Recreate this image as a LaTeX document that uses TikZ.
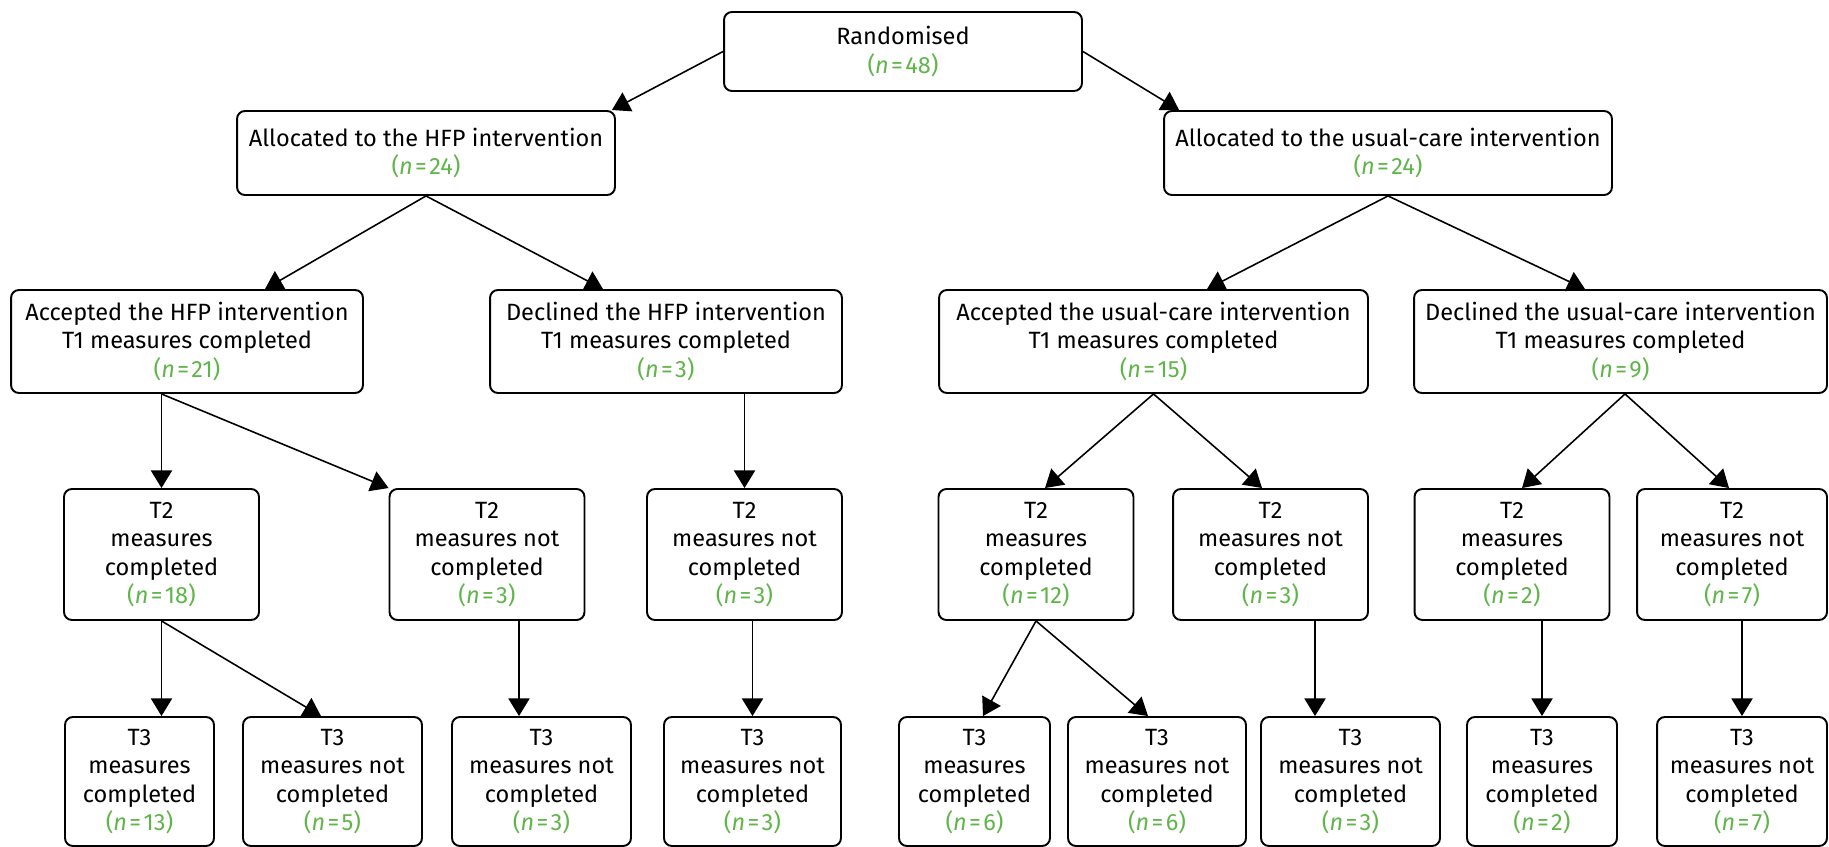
\documentclass[tikz,border=0pt]{standalone}
\usepackage{fontspec}
\setmainfont{Fira Sans}
\usetikzlibrary{positioning, arrows.meta, calc}

\begin{document}
\begin{tikzpicture}[
    x=0.02cm, y=-0.02cm,
    every node/.style={draw, rectangle, rounded corners=4.5pt, line width=1.1pt, inner sep=0pt, align=center, font=\fontsize{13.4pt}{16.2pt}\selectfont},
    arrow/.style={-{Triangle[length=10pt, width=12pt]}, line width=0.9pt}
]

% Colors
\definecolor{nihrgreen}{RGB}{96, 181, 74} % counts

\useasboundingbox (0,0) rectangle (1829,847);

% Nodes
\node (ran) [minimum width=7.16cm, minimum height=1.58cm] at (903,51.5) {Randomised\\\textcolor{nihrgreen}{(\textit{n}\hspace{0.1em}=\hspace{0.1em}48)}};

\node (hfp_alloc) [minimum width=7.56cm, minimum height=1.68cm] at (426,153) {Allocated to the HFP intervention\\\textcolor{nihrgreen}{(\textit{n}\hspace{0.1em}=\hspace{0.1em}24)}};
\node (uc_alloc) [minimum width=8.96cm, minimum height=1.68cm] at (1388,153) {Allocated to the usual-care intervention\\\textcolor{nihrgreen}{(\textit{n}\hspace{0.1em}=\hspace{0.1em}24)}};

\node (hfp_acc) [minimum width=7.04cm, minimum height=2.06cm] at (187,341.5) {Accepted the HFP intervention\\T1 measures completed\\\textcolor{nihrgreen}{(\textit{n}\hspace{0.1em}=\hspace{0.1em}21)}};
\node (hfp_dec) [minimum width=7.04cm, minimum height=2.06cm] at (666,341.5) {Declined the HFP intervention\\T1 measures completed\\\textcolor{nihrgreen}{(\textit{n}\hspace{0.1em}=\hspace{0.1em}3)}};
\node (uc_acc) [minimum width=8.58cm, minimum height=2.06cm] at (1153.5,341.5) {Accepted the usual-care intervention\\T1 measures completed\\\textcolor{nihrgreen}{(\textit{n}\hspace{0.1em}=\hspace{0.1em}15)}};
\node (uc_dec) [minimum width=8.26cm, minimum height=2.06cm] at (1620.5,341.5) {Declined the usual-care intervention\\T1 measures completed\\\textcolor{nihrgreen}{(\textit{n}\hspace{0.1em}=\hspace{0.1em}9)}};

\node (t2_hfp_done) [minimum width=3.9cm, minimum height=2.62cm] at (161.5,554.5) {T2\\measures\\completed\\\textcolor{nihrgreen}{(\textit{n}\hspace{0.1em}=\hspace{0.1em}18)}};
\node (t2_hfp_not) [minimum width=3.9cm, minimum height=2.62cm] at (487,554.5) {T2\\measures not\\completed\\\textcolor{nihrgreen}{(\textit{n}\hspace{0.1em}=\hspace{0.1em}3)}};
\node (t2_dec_not) [minimum width=3.9cm, minimum height=2.62cm] at (744.5,554.5) {T2\\measures not\\completed\\\textcolor{nihrgreen}{(\textit{n}\hspace{0.1em}=\hspace{0.1em}3)}};
\node (t2_uc_done) [minimum width=3.9cm, minimum height=2.62cm] at (1036,554.5) {T2\\measures\\completed\\\textcolor{nihrgreen}{(\textit{n}\hspace{0.1em}=\hspace{0.1em}12)}};
\node (t2_uc_not) [minimum width=3.9cm, minimum height=2.62cm] at (1270.5,554.5) {T2\\measures not\\completed\\\textcolor{nihrgreen}{(\textit{n}\hspace{0.1em}=\hspace{0.1em}3)}};
\node (t2_ucdec_done) [minimum width=3.9cm, minimum height=2.62cm] at (1512,554.5) {T2\\measures\\completed\\\textcolor{nihrgreen}{(\textit{n}\hspace{0.1em}=\hspace{0.1em}2)}};
\node (t2_ucdec_not) [minimum width=3.8cm, minimum height=2.62cm] at (1732,554.5) {T2\\measures not\\completed\\\textcolor{nihrgreen}{(\textit{n}\hspace{0.1em}=\hspace{0.1em}7)}};

\node (t3_hfp_done) [minimum width=2.98cm, minimum height=2.58cm] at (139.5,781.5) {T3\\measures\\completed\\\textcolor{nihrgreen}{(\textit{n}\hspace{0.1em}=\hspace{0.1em}13)}};
\node (t3_hfp_not) [minimum width=3.58cm, minimum height=2.58cm] at (332.5,781.5) {T3\\measures not\\completed\\\textcolor{nihrgreen}{(\textit{n}\hspace{0.1em}=\hspace{0.1em}5)}};
\node (t3_hfpnot_not) [minimum width=3.58cm, minimum height=2.58cm] at (541.5,781.5) {T3\\measures not\\completed\\\textcolor{nihrgreen}{(\textit{n}\hspace{0.1em}=\hspace{0.1em}3)}};
\node (t3_dec_not) [minimum width=3.54cm, minimum height=2.58cm] at (752.5,781.5) {T3\\measures not\\completed\\\textcolor{nihrgreen}{(\textit{n}\hspace{0.1em}=\hspace{0.1em}3)}};
\node (t3_uc_done) [minimum width=3.02cm, minimum height=2.58cm] at (974.5,781.5) {T3\\measures\\completed\\\textcolor{nihrgreen}{(\textit{n}\hspace{0.1em}=\hspace{0.1em}6)}};
\node (t3_uc_not) [minimum width=3.56cm, minimum height=2.58cm] at (1157,781.5) {T3\\measures not\\completed\\\textcolor{nihrgreen}{(\textit{n}\hspace{0.1em}=\hspace{0.1em}6)}};
\node (t3_ucnot_not) [minimum width=3.58cm, minimum height=2.58cm] at (1350.5,781.5) {T3\\measures not\\completed\\\textcolor{nihrgreen}{(\textit{n}\hspace{0.1em}=\hspace{0.1em}3)}};
\node (t3_ucdec_done) [minimum width=3.0cm, minimum height=2.58cm] at (1542,781.5) {T3\\measures\\completed\\\textcolor{nihrgreen}{(\textit{n}\hspace{0.1em}=\hspace{0.1em}2)}};
\node (t3_ucdec_not) [minimum width=3.4cm, minimum height=2.58cm] at (1742,781.5) {T3\\measures not\\completed\\\textcolor{nihrgreen}{(\textit{n}\hspace{0.1em}=\hspace{0.1em}7)}};

% Edges
\draw[arrow] (ran.west) -- ($(hfp_alloc.north east)+(-4,0)$);
\draw[arrow] (ran.east) -- ($(uc_alloc.north west)+(16,0)$);

\draw[arrow] (hfp_alloc.south) -- ($(hfp_acc.north)+(78,0)$);
\draw[arrow] (hfp_alloc.south) -- ($(hfp_dec.north)+(-63,0)$);
\draw[arrow] (uc_alloc.south) -- ($(uc_acc.north)+(53.5,0)$);
\draw[arrow] (uc_alloc.south) -- ($(uc_dec.north)+(-35.5,0)$);

\draw[arrow] (hfp_acc.south -| t2_hfp_done) -- (t2_hfp_done.north);
\draw[arrow] (hfp_acc.south -| t2_hfp_done) -- (t2_hfp_not.north west);
\draw[arrow] (hfp_dec.south -| t2_dec_not) -- (t2_dec_not.north);
\draw[arrow] (uc_acc.south) -- ($(t2_uc_done.north)+(9,0)$);
\draw[arrow] (uc_acc.south) -- ($(t2_uc_not.north)+(-8.5,0)$);
\draw[arrow] ($(uc_dec.south)+(4.5,0)$) -- ($(t2_ucdec_done.north)+(10,0)$);
\draw[arrow] ($(uc_dec.south)+(4.5,0)$) -- ($(t2_ucdec_not.north)+(-3,0)$);

\draw[arrow] (t2_hfp_done.south) -- (t3_hfp_done.north -| t2_hfp_done);
\draw[arrow] (t2_hfp_done.south) -- ($(t3_hfp_not.north)+(-11.5,0)$);
\draw[arrow] ($(t2_hfp_not.south)+(32,0)$) coordinate (hfp_not_out) -- (t3_hfpnot_not.north -| hfp_not_out);
\draw[arrow] (t2_dec_not.south -| t3_dec_not) -- (t3_dec_not.north);
\draw[arrow] (t2_uc_done.south) -- ($(t3_uc_done.north)+(8.5,0)$);
\draw[arrow] (t2_uc_done.south) -- ($(t3_uc_not.north)+(-9,0)$);
\draw[arrow] ($(t2_uc_not.south)+(44.5,0)$) coordinate (uc_not_out) -- (t3_ucnot_not.north -| uc_not_out);
\draw[arrow] (t2_ucdec_done.south -| t3_ucdec_done) -- (t3_ucdec_done.north);
\draw[arrow] (t2_ucdec_not.south -| t3_ucdec_not) -- (t3_ucdec_not.north);

\end{tikzpicture}
\end{document}
